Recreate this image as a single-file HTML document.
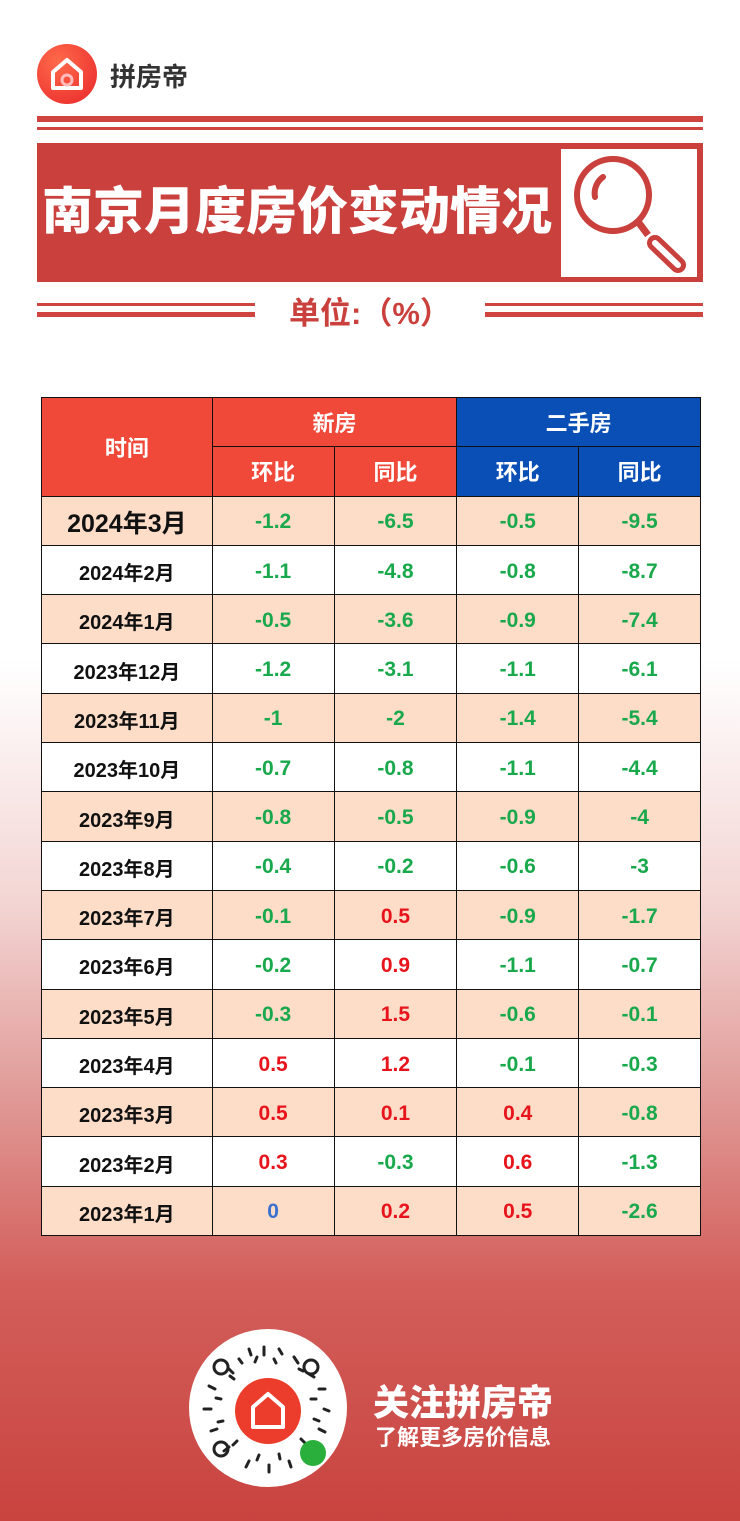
<!DOCTYPE html>
<html><head><meta charset="utf-8"><style>
*{margin:0;padding:0;box-sizing:border-box}
body{width:740px;height:1521px;position:relative;overflow:hidden;font-family:"Liberation Sans","Noto Sans CJK SC",sans-serif;
background:linear-gradient(to bottom,#fff 0px,#fff 660px,#f3d6d4 900px,#e09996 1100px,#d35f5b 1280px,#c9433f 1521px)}
.abs{position:absolute}
table{position:absolute;left:41px;top:397px;border-collapse:collapse;width:660px}
td{border:1.5px solid #111;text-align:center;font-weight:bold;height:49.3px;font-size:21px;padding-top:3px}
.h td{color:#fff;font-size:22px;font-weight:bold;padding-top:0}
.r{background:#f0493a}.b{background:#0a4fb5}
.p{background:#fddcc8}.w{background:#fff}
.t{color:#111;font-size:20px}
.g{color:#19a94c}.re{color:#e8141c}.bl{color:#3b6fd0}
</style></head><body>
<div class="abs" style="left:37px;top:44px;width:60px;height:60px;border-radius:50%;background:radial-gradient(circle at 35% 30%,#ff6a4a,#e8262a)"></div>
<svg class="abs" style="left:37px;top:44px" width="60" height="60"><path d="M16 44 V28 L30 16 L44 28 V44 Z" fill="none" stroke="#fff" stroke-width="4" stroke-linejoin="round"/><circle cx="30" cy="36" r="5" fill="none" stroke="#fbb" stroke-width="3"/></svg>
<div class="abs" style="left:110px;top:57px;font-size:26px;font-weight:bold;color:#333">拼房帝</div>
<div class="abs" style="left:37px;top:116px;width:666px;height:6px;background:#d0443f"></div>
<div class="abs" style="left:37px;top:127px;width:666px;height:3px;background:#d0443f"></div>
<div class="abs" style="left:37px;top:143px;width:666px;height:139px;background:#c9403c"></div>
<div class="abs" style="left:561px;top:149px;width:136px;height:128px;background:#fff"></div>
<svg class="abs" style="left:561px;top:149px" width="136" height="128"><circle cx="52" cy="46" r="36" fill="none" stroke="#c9403c" stroke-width="6"/><path d="M42 28 A20 20 0 0 0 34 48" fill="none" stroke="#c9403c" stroke-width="6" stroke-linecap="round"/><line x1="78" y1="74" x2="87" y2="86" stroke="#c9403c" stroke-width="7"/><line x1="94" y1="94" x2="117" y2="116" stroke="#c9403c" stroke-width="16" stroke-linecap="round"/><line x1="94" y1="94" x2="117" y2="116" stroke="#fff" stroke-width="6" stroke-linecap="round"/></svg>
<div class="abs" style="left:42px;top:186px;font-size:51px;font-weight:900;color:#fff;letter-spacing:0px;line-height:1">南京月度房价变动情况</div>
<div class="abs" style="left:37px;top:303px;width:218px;height:3px;background:#d0443f"></div>
<div class="abs" style="left:37px;top:312px;width:218px;height:5px;background:#d0443f"></div>
<div class="abs" style="left:485px;top:303px;width:218px;height:3px;background:#d0443f"></div>
<div class="abs" style="left:485px;top:312px;width:218px;height:5px;background:#d0443f"></div>
<div class="abs" style="left:255px;top:288px;width:230px;text-align:center;font-size:31px;font-weight:bold;color:#c9403c">单位:（%）</div>
<table>
<tr class="h" style="height:49px"><td class="r" rowspan="2" style="width:171px">时间</td><td class="r" colspan="2">新房</td><td class="b" colspan="2">二手房</td></tr>
<tr class="h"><td class="r" style="width:122px">环比</td><td class="r" style="width:123px">同比</td><td class="b" style="width:122px">环比</td><td class="b" style="width:122px">同比</td></tr>
<tr class="p"><td class="t" style="font-size:25px">2024年3月</td><td class="g">-1.2</td><td class="g">-6.5</td><td class="g">-0.5</td><td class="g">-9.5</td></tr>
<tr class="w"><td class="t">2024年2月</td><td class="g">-1.1</td><td class="g">-4.8</td><td class="g">-0.8</td><td class="g">-8.7</td></tr>
<tr class="p"><td class="t">2024年1月</td><td class="g">-0.5</td><td class="g">-3.6</td><td class="g">-0.9</td><td class="g">-7.4</td></tr>
<tr class="w"><td class="t">2023年12月</td><td class="g">-1.2</td><td class="g">-3.1</td><td class="g">-1.1</td><td class="g">-6.1</td></tr>
<tr class="p"><td class="t">2023年11月</td><td class="g">-1</td><td class="g">-2</td><td class="g">-1.4</td><td class="g">-5.4</td></tr>
<tr class="w"><td class="t">2023年10月</td><td class="g">-0.7</td><td class="g">-0.8</td><td class="g">-1.1</td><td class="g">-4.4</td></tr>
<tr class="p"><td class="t">2023年9月</td><td class="g">-0.8</td><td class="g">-0.5</td><td class="g">-0.9</td><td class="g">-4</td></tr>
<tr class="w"><td class="t">2023年8月</td><td class="g">-0.4</td><td class="g">-0.2</td><td class="g">-0.6</td><td class="g">-3</td></tr>
<tr class="p"><td class="t">2023年7月</td><td class="g">-0.1</td><td class="re">0.5</td><td class="g">-0.9</td><td class="g">-1.7</td></tr>
<tr class="w"><td class="t">2023年6月</td><td class="g">-0.2</td><td class="re">0.9</td><td class="g">-1.1</td><td class="g">-0.7</td></tr>
<tr class="p"><td class="t">2023年5月</td><td class="g">-0.3</td><td class="re">1.5</td><td class="g">-0.6</td><td class="g">-0.1</td></tr>
<tr class="w"><td class="t">2023年4月</td><td class="re">0.5</td><td class="re">1.2</td><td class="g">-0.1</td><td class="g">-0.3</td></tr>
<tr class="p"><td class="t">2023年3月</td><td class="re">0.5</td><td class="re">0.1</td><td class="re">0.4</td><td class="g">-0.8</td></tr>
<tr class="w"><td class="t">2023年2月</td><td class="re">0.3</td><td class="g">-0.3</td><td class="re">0.6</td><td class="g">-1.3</td></tr>
<tr class="p"><td class="t">2023年1月</td><td class="bl">0</td><td class="re">0.2</td><td class="re">0.5</td><td class="g">-2.6</td></tr>
</table>
<div class="abs" style="left:189px;top:1329px;width:158px;height:158px;border-radius:50%;background:#fff"></div>
<svg class="abs" style="left:189px;top:1329px" width="158" height="158">
<g stroke="#222" stroke-width="3" stroke-linecap="round">
<path d="M40 40 l4 4 M60 20 l2 6 M75 18 l0 8 M90 20 l3 5 M105 28 l4 6 M120 45 l5 3 M130 60 l6 0 M135 80 l5 2 M130 100 l6 3 M120 118 l3 5 M100 132 l2 6 M80 136 l0 7 M60 132 l-3 6 M40 118 l-5 4 M28 100 l-6 2 M22 80 l-7 0 M26 60 l-6 -3 M50 30 l3 4 M68 28 l-2 5 M85 30 l2 4 M110 40 l4 2 M122 70 l5 0 M125 90 l5 2 M112 110 l4 4 M90 125 l1 5 M70 126 l-2 5 M48 112 l-4 4 M34 92 l-5 1 M32 70 l-5 -1 M45 50 l-4 -3"/>
</g>
<circle cx="32" cy="38" r="7" fill="none" stroke="#222" stroke-width="3"/><circle cx="122" cy="38" r="7" fill="none" stroke="#222" stroke-width="3"/><circle cx="32" cy="120" r="7" fill="none" stroke="#222" stroke-width="3"/>
<circle cx="79" cy="82" r="33" fill="#ec3d2c"/>
<path d="M64 98 V78 L79 65 L94 78 V98 Z" fill="none" stroke="#fff" stroke-width="4" stroke-linejoin="round"/>
<circle cx="124" cy="124" r="13" fill="#2aae3c"/>
</svg>
<div class="abs" style="left:373px;top:1374px;font-size:36px;font-weight:900;color:#fff">关注拼房帝</div>
<div class="abs" style="left:375px;top:1420px;font-size:22px;font-weight:bold;color:#fff">了解更多房价信息</div>
</body></html>
